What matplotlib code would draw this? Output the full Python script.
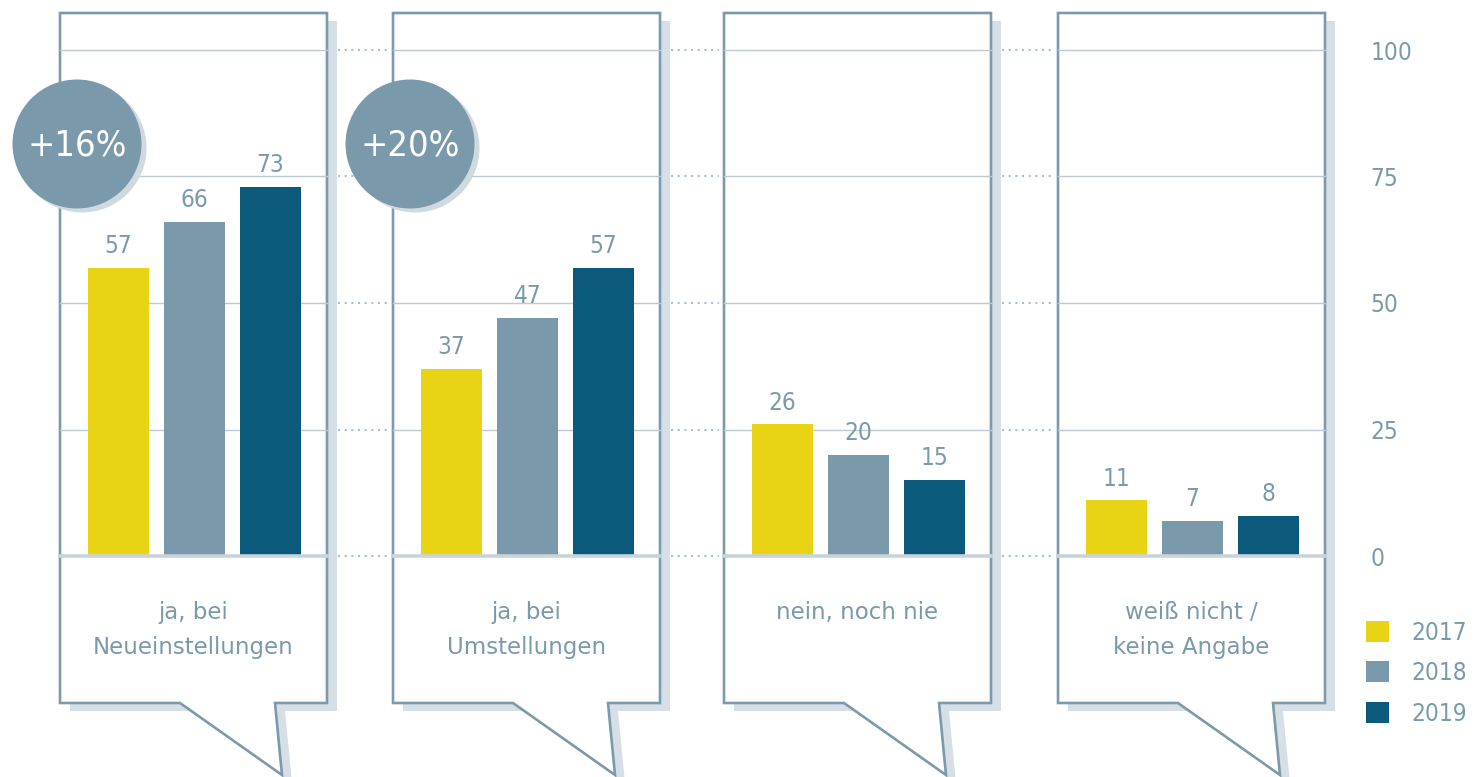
import matplotlib
matplotlib.use("Agg")
from matplotlib import pyplot as plt
from matplotlib.patches import Polygon, Circle, Patch
from matplotlib import font_manager
from matplotlib.font_manager import FontProperties

# data
categories = ["ja, bei\nNeueinstellungen", "ja, bei\nUmstellungen", "nein, noch nie", "weiß nicht /\nkeine Angabe"]
years = ["2017", "2018", "2019"]
v2017 = [57, 37, 26, 11]
v2018 = [66, 47, 20, 7]
v2019 = [73, 57, 15, 8]
badges = ["+16%", "+20%"]
yticks = [0, 25, 50, 75, 100]

colors = ["#E8D414", "#7A9AAB", "#0B5A7C"]
txtc = "#7A9AAB"
linec = "#7C9AAB"
shadowc = "#D6DFE5"
gridc = "#BBCAD3"

names = [f.name for f in font_manager.fontManager.ttflist]
if "Liberation Sans Narrow" in names:
    numprop = FontProperties(family="Liberation Sans Narrow", size=20)
    badge_size = 29
else:
    # condensed DejaVu for the narrow digits
    numprop = FontProperties(family="DejaVu Sans", stretch="condensed", size=17.5)
    badge_size = 26
badgeprop = numprop.copy()
badgeprop.set_size(badge_size)
labfont = ["DejaVu Sans"]

W, H = 1483, 777
fig = plt.figure(figsize=(W / 100, H / 100), dpi=100)

# pixel layout
panel_left = [60, 393, 724, 1058]
panel_w = 267
top_px, base_px, y100_px, bottom_px = 13, 556, 50, 703
ax_b = (H - base_px) / H
ax_h = (base_px - y100_px) / H

# background axis: dotted links between panels + right y labels
gax = fig.add_axes([0, ax_b, 1362 / W, ax_h], zorder=0)
gax.set_xlim(0, 1362)
gax.set_ylim(0, 100)
for i in range(3):
    x0 = panel_left[i] + panel_w + 11
    x1 = panel_left[i + 1] - 5
    gax.hlines(yticks, x0, x1, colors="#A9BFCC", linestyles=(0, (1, 2.2)), lw=1.5,
               clip_on=False)
gax.yaxis.tick_right()
gax.set_yticks(yticks)
gax.set_yticklabels([str(t) for t in yticks], fontproperties=numprop, color=txtc)
gax.tick_params(axis="y", length=0, pad=6)
gax.set_xticks([])
for s in gax.spines.values():
    s.set_visible(False)
gax.patch.set_visible(False)

# decoration axis: speech bubbles
dax = fig.add_axes([0, 0, 1, 1], zorder=1)
dax.set_xlim(0, W)
dax.set_ylim(H, 0)
dax.axis("off")
for i, x in enumerate(panel_left):
    r = x + panel_w
    pts = [(x, top_px), (r, top_px), (r, bottom_px), (r - 52, bottom_px),
           (r - 45, 775), (x + 120, bottom_px), (x, bottom_px)]
    sh = [(px + 10, py + 8) for px, py in pts]
    dax.add_patch(Polygon(sh, closed=True, fc=shadowc, ec="none"))
    dax.add_patch(Polygon(pts, closed=True, fc="white", ec=linec, lw=1.9, joinstyle="miter"))
    dax.text(x + panel_w / 2, 601, categories[i], ha="center", va="top",
             family=labfont, fontsize=16.5, color=txtc, linespacing=1.65)

# bar panels
xs = [0, 1, 2]
for i, x in enumerate(panel_left):
    ax = fig.add_axes([x / W, ax_b, panel_w / W, ax_h], zorder=2)
    ax.set_xlim(-0.77, 2.743)
    ax.set_ylim(0, 100)
    for t in yticks[1:]:
        ax.axhline(t, color=gridc, lw=1, zorder=0, clip_on=False)
    ax.axhline(0, color="#C8D4DC", lw=2.6, zorder=3, clip_on=False)
    vals = [v2017[i], v2018[i], v2019[i]]
    bars = ax.bar(xs, vals, width=0.803, color=colors, zorder=2)
    for b, v in zip(bars, vals):
        ax.annotate(str(v), (b.get_x() + b.get_width() / 2, v), xytext=(0, 7),
                    textcoords="offset points", ha="center", va="bottom",
                    fontproperties=numprop, color=txtc)
    ax.axis("off")

# badges on top
tax = fig.add_axes([0, 0, 1, 1], zorder=3)
tax.set_xlim(0, W)
tax.set_ylim(H, 0)
tax.axis("off")
for i, txt in enumerate(badges):
    cx = panel_left[i] + 17
    tax.add_patch(Circle((cx + 5, 148), 64.5, fc="#CFD9DF", ec="none"))
    tax.add_patch(Circle((cx, 144), 64.5, fc="#7A9AAB", ec="none"))
    tax.text(cx, 146, txt, ha="center", va="center", fontproperties=badgeprop,
             color="white")

# legend
handles = [Patch(facecolor=c, edgecolor="none") for c in colors]
fig.legend(handles, years, loc="upper left", bbox_to_anchor=(1366 / W, 1 - 621 / H),
           frameon=False, prop=numprop, labelcolor=txtc,
           handlelength=0.95, handleheight=0.95, handletextpad=0.9, labelspacing=0.67,
           borderaxespad=0, borderpad=0)

fig.savefig("out.png", dpi=100)
